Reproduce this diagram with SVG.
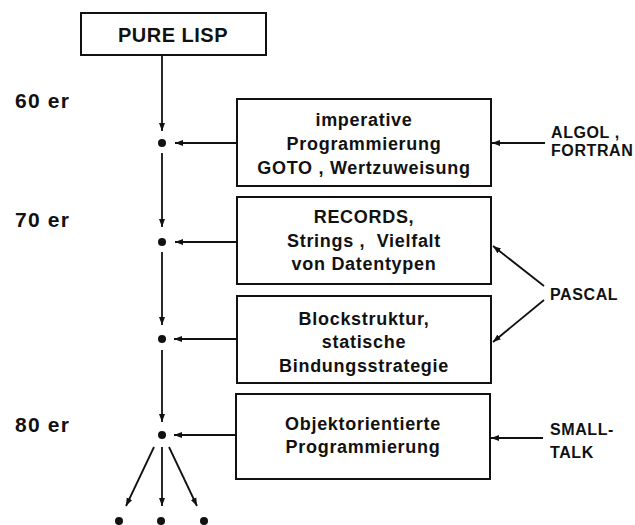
<svg xmlns="http://www.w3.org/2000/svg" width="635" height="525" viewBox="0 0 635 525">
  <defs>
    <style>
      .box { fill: #fff; stroke: #111; stroke-width: 2; }
      .ln { fill: none; stroke: #111; stroke-width: 1.8; }
      .ar { marker-end: url(#tip); }
      .dot { fill: #111; }
      text { font-family: "Liberation Sans", Arial, sans-serif; font-weight: bold; fill: #111; white-space: pre; }
      .bt { font-size: 18px; letter-spacing: 0.7px; text-anchor: middle; }
      .side { font-size: 16px; letter-spacing: 0.6px; }
      .era { font-size: 21px; letter-spacing: 1.2px; }
      .title { font-size: 20px; letter-spacing: 0.5px; text-anchor: middle; }
    </style>
    <marker id="tip" markerUnits="userSpaceOnUse" markerWidth="9" markerHeight="8" refX="8" refY="3.5" orient="auto">
      <path d="M0,0.5 L8,3.5 L0,6.5 z" fill="#111"/>
    </marker>
  </defs>

  <!-- decade labels -->
  <g id="decades">
    <text class="era" x="15" y="108">60 er</text>
    <text class="era" x="15" y="227">70 er</text>
    <text class="era" x="15" y="432">80 er</text>
  </g>

  <g id="pure-lisp">
    <rect class="box" x="81" y="13" width="185" height="42"/>
    <text class="title" x="173" y="42">PURE LISP</text>
  </g>

  <g id="imperative">
    <rect class="box" x="237" y="99" width="254" height="87"/>
    <text class="bt" x="364" y="126">imperative</text>
    <text class="bt" x="364" y="150">Programmierung</text>
    <text class="bt" x="364" y="174">GOTO , Wertzuweisung</text>
  </g>

  <g id="records">
    <rect class="box" x="237" y="197" width="254" height="87"/>
    <text class="bt" x="364" y="223">RECORDS,</text>
    <text class="bt" x="364" y="247">Strings ,  Vielfalt</text>
    <text class="bt" x="364" y="270">von Datentypen</text>
  </g>

  <g id="blockstruktur">
    <rect class="box" x="237" y="296" width="254" height="87"/>
    <text class="bt" x="364" y="325">Blockstruktur,</text>
    <text class="bt" x="364" y="348">statische</text>
    <text class="bt" x="364" y="372">Bindungsstrategie</text>
  </g>

  <g id="objekt">
    <rect class="box" x="236" y="394" width="254" height="85"/>
    <text class="bt" x="363" y="430">Objektorientierte</text>
    <text class="bt" x="363" y="453">Programmierung</text>
  </g>

  <g id="languages">
    <text class="side" x="551" y="138">ALGOL ,</text>
    <text class="side" x="551" y="156">FORTRAN</text>
    <text class="side" x="550" y="300">PASCAL</text>
    <text class="side" x="550" y="435">SMALL-</text>
    <text class="side" x="550" y="458">TALK</text>
  </g>

  <g id="connectors">
    <!-- main time line -->
    <line class="ln ar" x1="162" y1="55" x2="162" y2="131"/>
    <line class="ln ar" x1="162" y1="153" x2="162" y2="227"/>
    <line class="ln ar" x1="162" y1="252" x2="162" y2="325"/>
    <line class="ln ar" x1="162" y1="350" x2="162" y2="422"/>
    <!-- feature boxes into the time line -->
    <line class="ln ar" x1="237" y1="143" x2="175" y2="143"/>
    <line class="ln ar" x1="237" y1="242" x2="175" y2="242"/>
    <line class="ln ar" x1="237" y1="339" x2="174" y2="339"/>
    <line class="ln ar" x1="236" y1="435" x2="174" y2="435"/>
    <!-- source languages -->
    <line class="ln ar" x1="545" y1="143" x2="492" y2="143"/>
    <line class="ln ar" x1="544" y1="286" x2="493" y2="246"/>
    <line class="ln ar" x1="544" y1="300" x2="493" y2="342"/>
    <line class="ln ar" x1="543" y1="438" x2="491" y2="438"/>
    <!-- fan-out -->
    <line class="ln ar" x1="154" y1="447" x2="126" y2="506"/>
    <line class="ln ar" x1="162" y1="447" x2="162" y2="506"/>
    <line class="ln ar" x1="169" y1="447" x2="197" y2="506"/>
    <!-- junction dots -->
    <circle class="dot" cx="162" cy="143" r="4"/>
    <circle class="dot" cx="162" cy="242" r="4"/>
    <circle class="dot" cx="162" cy="339" r="4"/>
    <circle class="dot" cx="162" cy="435" r="4"/>
    <circle class="dot" cx="119" cy="521" r="4"/>
    <circle class="dot" cx="161" cy="521" r="4"/>
    <circle class="dot" cx="204" cy="521" r="4"/>
  </g>
</svg>
